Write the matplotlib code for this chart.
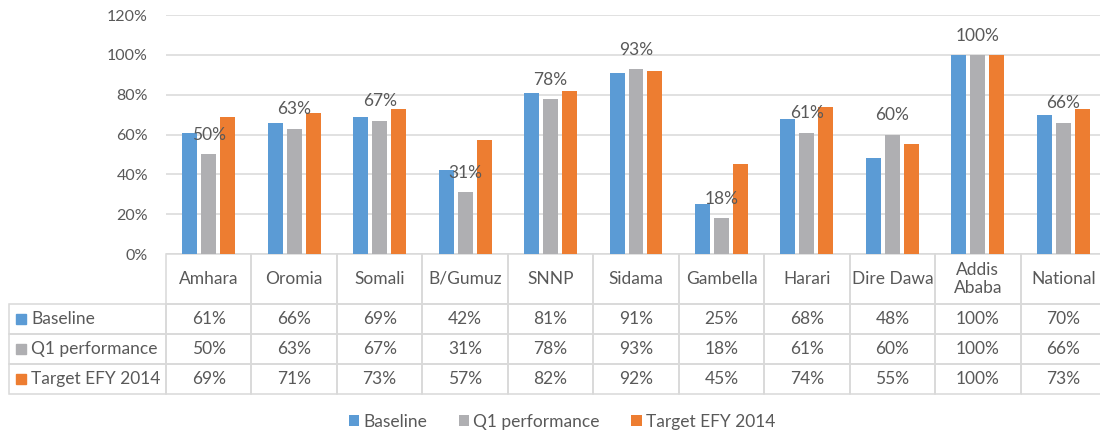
import numpy as np
import matplotlib
matplotlib.use('Agg')
import matplotlib.pyplot as plt
from matplotlib.patches import Rectangle
from matplotlib.ticker import PercentFormatter

plt.rcParams['font.family'] = ['Lato', 'DejaVu Sans']

regions = ['Amhara', 'Oromia', 'Somali', 'B/Gumuz', 'SNNP', 'Sidama',
           'Gambella', 'Harari', 'Dire Dawa', 'Addis\nAbaba', 'National']
baseline = [61, 66, 69, 42, 81, 91, 25, 68, 48, 100, 70]
q1_perf = [50, 63, 67, 31, 78, 93, 18, 61, 60, 100, 66]
target = [69, 71, 73, 57, 82, 92, 45, 74, 55, 100, 73]
series_names = ['Baseline', 'Q1 performance', 'Target EFY 2014']

colors = ['#5B9BD5', '#AFAFB2', '#ED7D31']
txt = '#595959'
line = '#D9D9D9'

W, H = 1100, 433
fig = plt.figure(figsize=(W / 100, H / 100), dpi=100)
# plot area in pixels (last column runs off the right edge, as in the source)
x0, x1, ytop, ybot = 166, 1106, 15, 254
ax = fig.add_axes([x0 / W, (H - ybot) / H, (x1 - x0) / W, (ybot - ytop) / H])

x = np.arange(len(regions))
bw = 0.175
step = 0.222
series = [baseline, q1_perf, target]
conts = []
for i, vals in enumerate(series):
    c = ax.bar(x + (i - 1) * step, vals, bw, color=colors[i],
               label=series_names[i], zorder=3)
    conts.append(c)

ax.bar_label(conts[1], labels=[f'{v}%' for v in q1_perf], padding=8,
             fontsize=12.5, color=txt)

ax.set_xlim(-0.5, len(regions) - 0.5)
ax.set_ylim(0, 120)
ax.set_yticks(np.arange(0, 121, 20))
ax.yaxis.set_major_formatter(PercentFormatter(decimals=0))
ax.tick_params(axis='y', length=0, pad=13, labelsize=11.5, labelcolor=txt)
ax.set_xticks([])
ax.grid(axis='y', color=line, linewidth=1.1, zorder=0)
for s in ax.spines.values():
    s.set_visible(False)

# data table under the chart
cell_text = [[''] + regions]
for name, vals in zip(series_names, series):
    cell_text.append([name] + [f'{v}%' for v in vals])

pw = x1 - x0
ph = ybot - ytop
tleft = 9
lab_w = x0 - tleft
col_w = pw / len(regions)
tbot = 394
widths = [lab_w] + [col_w] * len(regions)
tot = sum(widths)
tbl = ax.table(cellText=cell_text, cellLoc='center',
               colWidths=[w / tot for w in widths],
               bbox=[(tleft - x0) / pw, (ybot - tbot) / ph,
                     (x1 - tleft) / pw, (tbot - ybot) / ph])
tbl.auto_set_font_size(False)
tbl.set_fontsize(12.5)
row_h = [50, 30, 30, 30]
for (r, c), cell in tbl.get_celld().items():
    cell.set_height(row_h[r])
    cell.set_edgecolor(line)
    cell.set_linewidth(1.1)
    cell.get_text().set_color(txt)
    cell.set_facecolor('none')
    if r == 0 and c == 0:
        cell.visible_edges = 'open'
    if c == 0 and r > 0:
        cell.get_text().set_horizontalalignment('left')
        cell.PAD = 22 / lab_w

# coloured keys in the row label cells
for i in range(3):
    yc = ybot + 50 + 30 * i + 15
    ax.add_patch(Rectangle(((16 - x0) / pw, (ybot - yc - 5) / ph),
                           10 / pw, 10 / ph, transform=ax.transAxes,
                           color=colors[i], clip_on=False))

fig.legend(handles=conts, loc='center', bbox_to_anchor=(562 / W, 11 / H),
           ncol=3, frameon=False, fontsize=12.5, labelcolor=txt,
           handlelength=0.6, handleheight=0.6, handletextpad=0.25,
           columnspacing=1.8)

fig.savefig('out.png', dpi=100)
